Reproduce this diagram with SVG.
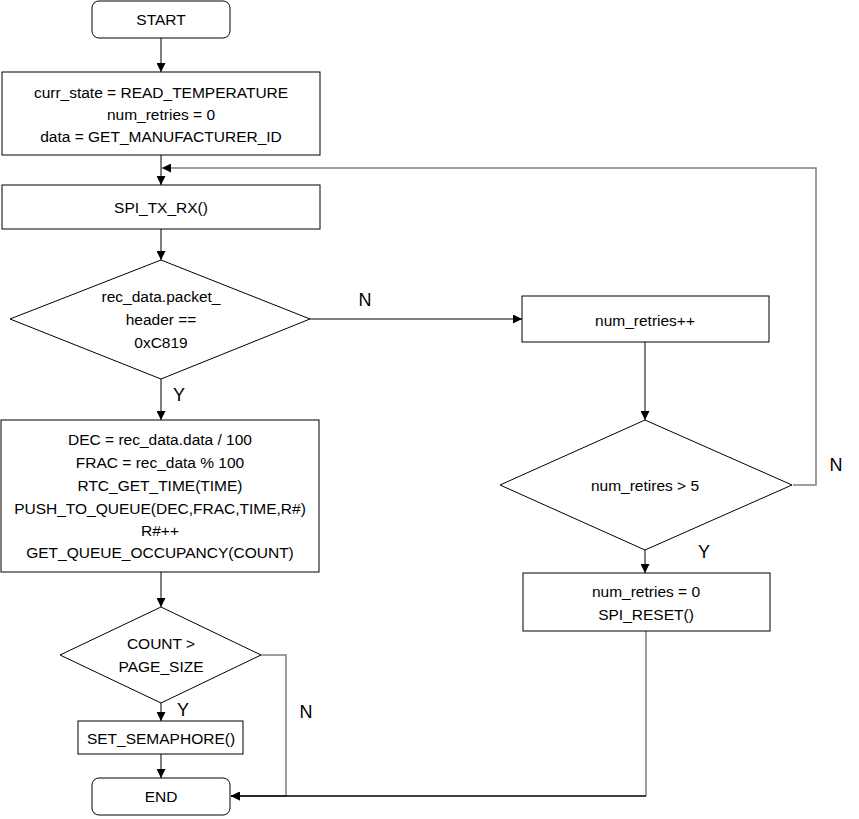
<svg xmlns="http://www.w3.org/2000/svg" width="859" height="819" viewBox="0 0 859 819">
<defs>
<marker id="ah" viewBox="0 0 10 10" refX="10" refY="5" markerWidth="9" markerHeight="9" markerUnits="userSpaceOnUse" orient="auto"><path d="M0,0 L10,5 L0,10 z" fill="#000"/></marker>
</defs>
<style>
.n{fill:#fff;stroke:#000;stroke-width:1}
.t{font-family:"Liberation Sans",Arial,sans-serif;font-size:15.5px;fill:#000;text-anchor:middle;dominant-baseline:central}
.l{font-family:"Liberation Sans",Arial,sans-serif;font-size:18px;fill:#000;text-anchor:middle;dominant-baseline:central}
.c{fill:none;stroke:#000;stroke-width:1;marker-end:url(#ah)}
.g{fill:none;stroke:#7f7f7f;stroke-width:1.5}
.gc{fill:none;stroke:#7f7f7f;stroke-width:1.5;marker-end:url(#ah)}
.bc{fill:none;stroke:#000;stroke-width:1.3;marker-end:url(#ah)}
</style>
<rect width="859" height="819" fill="#fff"/>
<g id="connectors">
<path class="c" d="M161,38 V72"/>
<path class="c" d="M161,155 V185"/>
<path class="gc" d="M793,485 H816 V168 H162"/>
<path class="c" d="M161,229 V260"/>
<path class="c" d="M310,319 H522"/>
<path class="c" d="M161,379 V420"/>
<path class="c" d="M645,342 V420"/>
<path class="c" d="M645,550 V573"/>
<path class="c" d="M161,572 V607"/>
<path class="c" d="M161,703 V721"/>
<path class="c" d="M161,754 V778"/>
<path class="gc" d="M261,655 H286 V796 H231"/>
<path class="g" d="M646,631 V796"/>
<path class="bc" d="M646,796 H231"/>
<text class="l" x="365" y="300">N</text>
<text class="l" x="179" y="395">Y</text>
<text class="l" x="836" y="465">N</text>
<text class="l" x="704" y="552">Y</text>
<text class="l" x="183" y="710">Y</text>
<text class="l" x="306" y="712">N</text>
</g>
<g id="start"><rect class="n" x="92" y="1" width="138" height="37" rx="7"/><text class="t" x="161" y="19">START</text></g>
<g id="init"><rect class="n" x="2" y="72" width="318" height="83"/>
<text class="t" x="161" y="92">curr_state = READ_TEMPERATURE</text>
<text class="t" x="161" y="114">num_retries = 0</text>
<text class="t" x="161" y="136">data = GET_MANUFACTURER_ID</text></g>
<g id="spi"><rect class="n" x="2" y="185" width="318" height="44"/><text class="t" x="161" y="207">SPI_TX_RX()</text></g>
<g id="dec1"><polygon class="n" points="161,260 310,319 161,379 10,319"/>
<text class="t" x="161" y="296">rec_data.packet_</text>
<text class="t" x="161" y="319">header ==</text>
<text class="t" x="161" y="342">0xC819</text></g>
<g id="proc"><rect class="n" x="1" y="420" width="318" height="152"/>
<text class="t" x="160" y="439">DEC = rec_data.data / 100</text>
<text class="t" x="160" y="462">FRAC = rec_data % 100</text>
<text class="t" x="160" y="485">RTC_GET_TIME(TIME)</text>
<text class="t" x="160" y="508">PUSH_TO_QUEUE(DEC,FRAC,TIME,R#)</text>
<text class="t" x="160" y="530">R#++</text>
<text class="t" x="160" y="552">GET_QUEUE_OCCUPANCY(COUNT)</text></g>
<g id="dec2"><polygon class="n" points="161,607 261,655 161,703 60,655"/>
<text class="t" x="161" y="643">COUNT &gt;</text>
<text class="t" x="161" y="666">PAGE_SIZE</text></g>
<g id="sem"><rect class="n" x="78" y="721" width="165" height="33"/><text class="t" x="161" y="738">SET_SEMAPHORE()</text></g>
<g id="end"><rect class="n" x="92" y="778" width="138" height="37" rx="7"/><text class="t" x="161" y="796">END</text></g>
<g id="inc"><rect class="n" x="522" y="296" width="247" height="46"/><text class="t" x="645" y="320">num_retries++</text></g>
<g id="dec3"><polygon class="n" points="645,420 792,485 645,550 500,485"/><text class="t" x="645" y="485">num_retires &gt; 5</text></g>
<g id="reset"><rect class="n" x="523" y="573" width="247" height="58"/>
<text class="t" x="646" y="591">num_retries = 0</text>
<text class="t" x="646" y="614">SPI_RESET()</text></g>
</svg>
